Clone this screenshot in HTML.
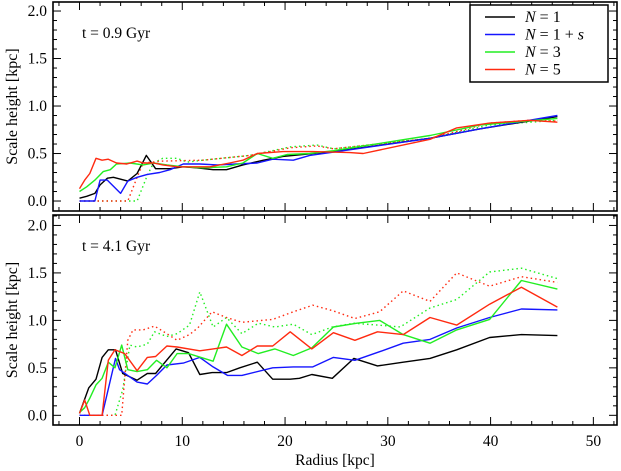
<!DOCTYPE html>
<html><head><meta charset="utf-8"><style>
body{margin:0;background:#fff;}
svg{display:block;font-family:"Liberation Serif",serif;}
</style></head><body>
<svg id="c" width="621" height="471" viewBox="0 0 621 471" xmlns="http://www.w3.org/2000/svg"></svg>
<script>
// ---- data (radius kpc, scale height kpc) ----
const topBlackR=[0,0.7,1.5,2.0,2.7,3.3,4.0,4.7,5.6,6.5,7.4,8.8,10.1,11.4,13.0,14.3,15.9,17.9,19.8,21.7,24.7,34.1,39.0,46.5];
const topBlackH=[0.03,0.05,0.08,0.17,0.24,0.25,0.23,0.21,0.29,0.48,0.34,0.34,0.36,0.35,0.33,0.33,0.38,0.43,0.47,0.49,0.52,0.66,0.76,0.89];
const topBlueR=[0,1.5,2.0,2.7,4.0,4.7,5.6,6.6,7.8,8.8,10.1,11.7,13.4,15.3,17.3,18.8,20.8,22.4,24.4,34.1,39.0,46.5];
const topBlueH=[0,0,0.22,0.22,0.08,0.21,0.25,0.28,0.3,0.33,0.39,0.39,0.38,0.39,0.4,0.44,0.43,0.48,0.51,0.66,0.76,0.9];
const topGreenR=[0,0.7,1.5,2.3,3.0,3.6,4.9,6.2,7.2,8.5,10.1,12.0,14.3,15.9,17.3,18.8,20.2,22.4,24.7,34.1,39.0,46.5];
const topGreenH=[0.1,0.15,0.22,0.31,0.33,0.39,0.4,0.38,0.4,0.38,0.36,0.35,0.36,0.4,0.5,0.45,0.49,0.5,0.53,0.69,0.8,0.87];
const topRedR=[0,0.5,1.0,1.6,2.2,2.8,3.6,4.6,5.6,6.2,7.2,8.1,9.5,11.0,12.7,14.6,15.9,17.3,19.8,22.7,26.3,27.6,34.1,36.7,39.9,43.8,46.5];
const topRedH=[0.13,0.22,0.29,0.45,0.43,0.44,0.4,0.39,0.42,0.4,0.4,0.38,0.36,0.36,0.36,0.4,0.43,0.5,0.52,0.52,0.51,0.5,0.65,0.77,0.82,0.85,0.83];
const topGreenDotR=[0,5.6,6.6,7.2,8.1,9.5,10.5,12.0,16.6,20.5,23.1,24.7,34.1,39.9,46.5];
const topGreenDotH=[0,0,0.27,0.4,0.45,0.45,0.41,0.43,0.48,0.57,0.59,0.55,0.66,0.8,0.85];
const topRedDotR=[0,4.7,5.6,6.2,8.1,12.0,16.6,20.5,23.1,24.7,34.1,39.9,43.8,46.5];
const topRedDotH=[0,0,0.25,0.4,0.42,0.43,0.48,0.56,0.58,0.55,0.66,0.82,0.85,0.84];

const botBlackR=[0,0.9,1.6,2.2,2.8,3.5,4.2,5.6,6.6,7.4,9.4,10.6,11.7,12.9,14.3,15.6,17.3,18.8,20.5,21.4,22.6,24.6,26.7,29.0,31.5,34.1,36.7,39.9,43.0,46.5];
const botBlackH=[0.02,0.29,0.38,0.61,0.69,0.69,0.44,0.37,0.44,0.44,0.7,0.66,0.43,0.45,0.45,0.5,0.56,0.38,0.38,0.39,0.43,0.39,0.6,0.52,0.56,0.6,0.69,0.82,0.85,0.84];
const botBlueR=[0,2.2,3.5,3.9,5.6,6.6,7.5,8.5,10.1,11.7,13.0,14.4,15.8,18.8,20.8,22.7,24.7,26.8,29.2,31.5,34.1,36.7,39.9,43.0,46.5];
const botBlueH=[0,0,0.6,0.48,0.35,0.33,0.42,0.53,0.55,0.61,0.51,0.42,0.42,0.5,0.51,0.51,0.61,0.58,0.67,0.76,0.8,0.92,1.03,1.12,1.11];
const botGreenR=[0,0.5,1.0,1.6,2.2,2.8,3.45,4.1,4.7,5.6,6.6,7.5,8.5,9.5,10.6,13.0,14.3,15.8,17.4,19.0,20.8,22.6,24.7,27.0,29.2,31.5,34.1,36.7,39.9,43.0,46.5];
const botGreenH=[0.03,0.08,0.18,0.32,0.39,0.56,0.5,0.74,0.48,0.46,0.48,0.58,0.5,0.65,0.65,0.57,0.96,0.72,0.65,0.7,0.63,0.71,0.93,0.97,1.0,0.85,0.76,0.9,1.01,1.42,1.33];
const botRedR=[0,0.5,1.0,2.2,2.8,3.45,4.4,5.6,6.6,7.4,8.5,9.5,11.7,13.0,14.3,15.8,17.3,18.8,20.5,22.6,24.7,26.8,29.0,31.5,34.1,36.7,39.9,43.0,46.5];
const botRedH=[0.02,0.16,0,0,0.58,0.69,0.65,0.47,0.61,0.62,0.73,0.72,0.68,0.7,0.72,0.63,0.73,0.73,0.88,0.7,0.87,0.79,0.88,0.85,1.03,0.95,1.17,1.35,1.14];
const botGreenDotR=[0,3.45,4.2,4.9,5.6,6.6,7.3,8.5,9.5,10.7,11.7,13.0,14.3,15.8,17.4,19.0,20.8,22.6,24.6,26.7,29.0,31.2,34.1,36.7,39.9,43.0,46.5];
const botGreenDotH=[0,0,0.27,0.74,0.72,0.75,0.88,0.83,0.86,0.95,1.3,0.93,1.03,0.86,0.97,0.93,0.96,0.85,0.93,0.97,0.95,0.93,1.13,1.22,1.51,1.55,1.44];
const botRedDotR=[0,4.1,4.7,5.2,6.2,7.3,8.5,9.5,10.7,11.5,12.9,14.3,15.8,18.8,20.8,22.7,24.7,26.8,29.2,31.5,34.1,36.7,39.9,43.0,46.5];
const botRedDotH=[0,0,0.79,0.9,0.9,0.94,0.86,0.79,0.85,0.92,1.09,1.03,0.98,1.01,1.09,1.16,1.1,1.02,1.09,1.31,1.2,1.5,1.36,1.46,1.4];

const xTicks=[0,10,20,30,40,50];
const yTicks=[0.0,0.5,1.0,1.5,2.0];
const yTickLabels=["0.0","0.5","1.0","1.5","2.0"];

// ---- layout ----
const svg=document.getElementById('c');
const NS='http://www.w3.org/2000/svg';
const L=53,R=617;
const xmin=-2.58,xmax=52.3;
const panels=[{top:2,bot:211,ymin:-0.105,ymax:2.095,name:'top-panel'},{top:215,bot:425,ymin:-0.102,ymax:2.11,name:'bottom-panel'}];
function X(v){return L+(v-xmin)/(xmax-xmin)*(R-L);}
function mkY(p){return v=>p.bot-(v-p.ymin)/(p.ymax-p.ymin)*(p.bot-p.top);}
function el(t,a,parent){const e=document.createElementNS(NS,t);for(const k in a)e.setAttribute(k,a[k]);(parent||svg).appendChild(e);return e;}

panels.forEach((p,pi)=>{
  const Y=mkY(p);
  const g=el('g',{});
  
  
  for(let v=-2;v<=52;v+=2){const x=X(v);if(x<L||x>R)continue;const len=(v%10===0)?8:4;
    el('line',{x1:x,x2:x,y1:p.bot,y2:p.bot-len,stroke:'#000','stroke-width':1},g);
    el('line',{x1:x,x2:x,y1:p.top,y2:p.top+len,stroke:'#000','stroke-width':1},g);}
  for(let i=0;i<=21;i++){const v=i*0.1;const y=Y(v);if(y<p.top)continue;const len=(i%5===0)?8:4;
    el('line',{x1:L,x2:L+len,y1:y,y2:y,stroke:'#000','stroke-width':1},g);
    el('line',{x1:R,x2:R-len,y1:y,y2:y,stroke:'#000','stroke-width':1},g);}
  yTicks.forEach((v,i)=>{const t=el('text',{x:47,y:Y(v)+5,'text-anchor':'end','font-size':15.5},g);t.textContent=yTickLabels[i];
    });
  const yl=el('text',{x:0,y:0,'text-anchor':'middle','font-size':16,transform:`translate(17,${(p.top+p.bot)/2}) rotate(-90)`},g);
  yl.textContent='Scale height [kpc]';
  
  const ann=el('text',{x:82,y:p.top+36,'font-size':15.5},g);
  ann.textContent=pi===0?'t = 0.9 Gyr':'t = 4.1 Gyr';
  
  const series=pi===0?[
    [topGreenDotR,topGreenDotH,'#22ee22',true,'n3-dotted'],[topRedDotR,topRedDotH,'#ff2a10',true,'n5-dotted'],
    [topBlackR,topBlackH,'#000',false,'n1-line'],[topBlueR,topBlueH,'#1515ff',false,'n1s-line'],
    [topGreenR,topGreenH,'#22ee22',false,'n3-line'],[topRedR,topRedH,'#ff2a10',false,'n5-line']]:[
    [botGreenDotR,botGreenDotH,'#22ee22',true,'n3-dotted'],[botRedDotR,botRedDotH,'#ff2a10',true,'n5-dotted'],
    [botBlackR,botBlackH,'#000',false,'n1-line'],[botBlueR,botBlueH,'#1515ff',false,'n1s-line'],
    [botGreenR,botGreenH,'#22ee22',false,'n3-line'],[botRedR,botRedH,'#ff2a10',false,'n5-line']];
  series.forEach(s=>{
    const pts=s[0].map((r,i)=>X(r).toFixed(1)+','+Y(s[1][i]).toFixed(1)).join(' ');
    const pl=el('polyline',{points:pts,fill:'none',stroke:s[2],'stroke-width':1.4,'stroke-dasharray':s[3]?'1.5,3':'none','stroke-linejoin':'round'},g);
    
  });
  el('rect',{x:L,y:p.top,width:R-L,height:p.bot-p.top,fill:'none',stroke:'#000','stroke-width':1.6},g);
});
xTicks.forEach(v=>{const t=el('text',{x:X(v),y:446,'text-anchor':'middle','font-size':15.5});t.textContent=v;
  });
const xl=el('text',{x:335,y:465,'text-anchor':'middle','font-size':15.5});xl.textContent='Radius [kpc]';

// legend
const lg=el('g',{});

el('rect',{x:470,y:5,width:138,height:77,fill:'#fff',stroke:'#000','stroke-width':1.5},lg);
const legRest=[' = 1',' = 1 + ',' = 3',' = 5'];
const legCols=['#000','#1515ff','#22ee22','#ff2a10'];
legRest.forEach((n,i)=>{const y=17+i*17.5;
  el('line',{x1:485,x2:515,y1:y,y2:y,stroke:legCols[i],'stroke-width':1.4},lg);
  const t=el('text',{x:525,y:y+5,'font-size':16},lg);
  
  const a=el('tspan',{'font-style':'italic'},t);a.textContent='N';
  const b=el('tspan',{},t);b.textContent=n;
  if(i===1){const c=el('tspan',{'font-style':'italic'},t);c.textContent='s';}
});
</script>
</body></html>
